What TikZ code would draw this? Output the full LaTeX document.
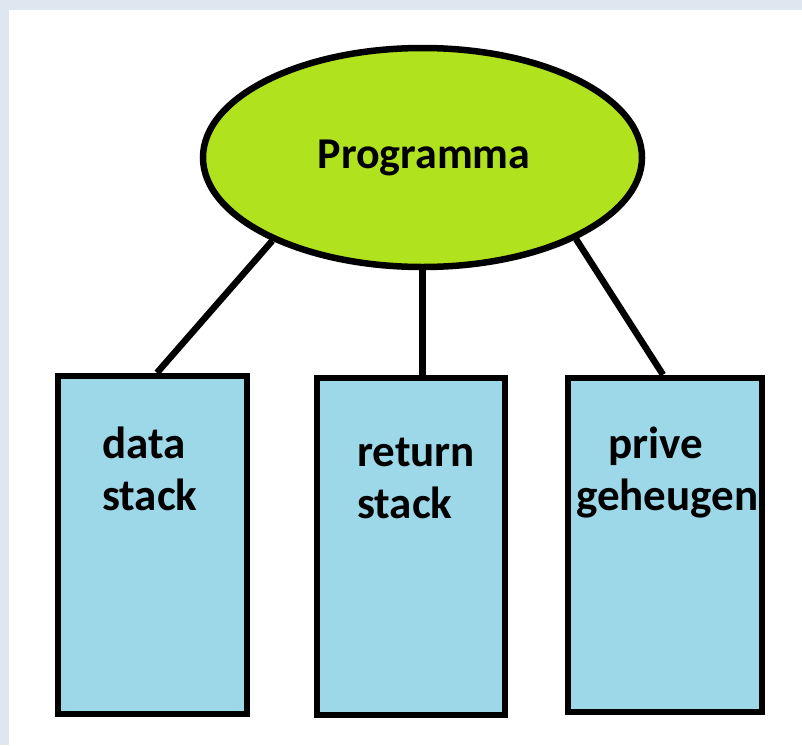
\documentclass[tikz,border=0pt]{standalone}
\usepackage{fontspec}
\setmainfont{Carlito}
\usetikzlibrary{shapes.geometric}
\definecolor{framec}{RGB}{222,230,240}
\definecolor{limec}{RGB}{176,226,30}
\definecolor{boxc}{RGB}{157,216,232}
\tikzset{
  stackbox/.style={draw=black, line width=6.5pt, fill=boxc, inner sep=0pt},
  oval/.style={ellipse, draw=black, line width=6.5pt, fill=limec, inner sep=0pt},
  lbl/.style={font=\fontsize{45}{52}\selectfont\bfseries, align=left, inner sep=0pt, anchor=base west},
  conn/.style={line width=6.5pt}
}
\begin{document}
\begin{tikzpicture}[x=1pt,y=-1pt]
\useasboundingbox (0,0) rectangle (802,745);
\fill[white] (0,0) rectangle (802,745);
\fill[framec] (0,0) rectangle (9,745);
\fill[framec] (0,0) rectangle (802,10);
\node[oval, minimum width=439pt, minimum height=219pt] (prog) at (422.5,157.5) {};
\node[font=\fontsize{44}{50}\selectfont\bfseries, inner sep=0pt, anchor=base] (progt) at (424,168) {Programma};
\node[stackbox, minimum width=189pt, minimum height=338pt] (d) at (152.5,545) {};
\node[stackbox, minimum width=188pt, minimum height=337pt] (r) at (411,546.5) {};
\node[stackbox, minimum width=194pt, minimum height=334pt] (p) at (665,545) {};
\node[lbl] (dt) at (102,510) {data\\stack};
\node[lbl] (rt) at (357,518) {return\\stack};
\node[lbl] (pt) at (576,510) {\hspace*{32pt}prive\\geheugen};
\draw[conn] (prog.209.6) -- ([xshift=4.5pt]d.north);
\draw[conn] (prog.south) -- (prog.south |- r.north);
\draw[conn] (prog.332.7) -- ([xshift=-2pt]p.north);
\end{tikzpicture}
\end{document}
